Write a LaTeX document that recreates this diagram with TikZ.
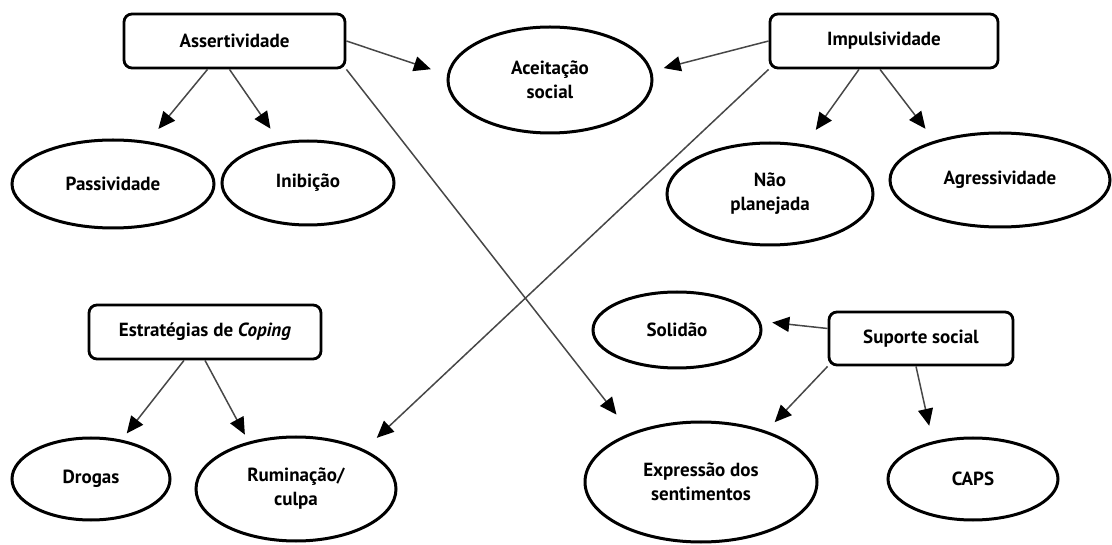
\documentclass[tikz,border=0pt]{standalone}
\usepackage{fontspec}
\setmainfont{PT Sans}
\usetikzlibrary{shapes.geometric,arrows.meta}

\begin{document}
\begin{tikzpicture}[x=1pt,y=-1pt,
   every node/.style={font=\bfseries\fontsize{19}{24}\selectfont,align=center},
   caixa/.style={draw,line width=2.8pt,rounded corners=8pt,inner sep=0pt,minimum height=54pt},
   bolha/.style={draw,ellipse,line width=3pt,inner sep=0pt},
   seta/.style={draw=black!72,line width=1.5pt,-{Triangle[length=17pt,width=15pt,color=black]}}]

\useasboundingbox (0,0) rectangle (1112,545);

\node[caixa,minimum width=221pt] (assert) at (234.5,41) {Assertividade};
\node[caixa,minimum width=228pt] (imp) at (884,41) {Impulsividade};
\node[caixa,minimum width=232pt] (est) at (205,332) {Estratégias de \textit{Coping}};
\node[caixa,minimum width=184pt,minimum height=53pt] (ss) at (921,338.5) {Suporte social};

\node[bolha,minimum width=204pt,minimum height=106pt] (aceit) at (550,80) {Aceitação\\social};
\node[bolha,minimum width=202pt,minimum height=88pt] (pass) at (113,184) {Passividade};
\node[bolha,minimum width=172pt,minimum height=84pt] (inib) at (308,183) {Inibição};
\node[bolha,minimum width=206pt,minimum height=102pt] (naoplan) at (770,194) {Não\\planejada};
\node[bolha,minimum width=220pt,minimum height=94pt] (agress) at (1000,180) {Agressividade};
\node[bolha,minimum width=168pt,minimum height=76pt] (sol) at (677,330) {Solidão};
\node[bolha,minimum width=158pt,minimum height=82pt] (drogas) at (91,479) {Drogas};
\node[bolha,minimum width=200pt,minimum height=104pt] (rum) at (296,489) {Ruminação/\\culpa};
\node[bolha,minimum width=232pt,minimum height=120pt] (exp) at (701,482) {Expressão dos\\sentimentos};
\node[bolha,minimum width=170pt,minimum height=82pt] (caps) at (973,479) {CAPS};

\draw[seta,shorten >=17pt] (assert.east) -- (aceit.177);
\draw[seta,shorten >=16pt] ([xshift=-27pt]assert.south) -- (pass);
\draw[seta,shorten >=16pt] ([xshift=-5pt]assert.south) -- (inib);
\draw[seta,shorten >=23pt] (assert.south east) -- (exp.145);

\draw[seta,shorten >=12pt] (imp.west) -- (aceit.5);
\draw[seta,shorten >=18pt] ([xshift=-25pt]imp.south) -- (naoplan);
\draw[seta,shorten >=15pt] ([xshift=-4pt]imp.south) -- (agress.149);
\draw[seta,shorten >=17pt] (imp.south west) -- (rum.30);

\draw[seta,shorten >=8pt] ([xshift=-21pt]est.south) -- (drogas);
\draw[seta,shorten >=8pt] (est.south) -- (rum.135);

\draw[seta,shorten >=12pt] ([yshift=10pt]ss.west) -- (sol.6);
\draw[seta,shorten >=12pt] (ss.south west) -- (exp.38);
\draw[seta,shorten >=16pt] ([xshift=-5pt]ss.south) -- (caps.137);

\end{tikzpicture}
\end{document}
